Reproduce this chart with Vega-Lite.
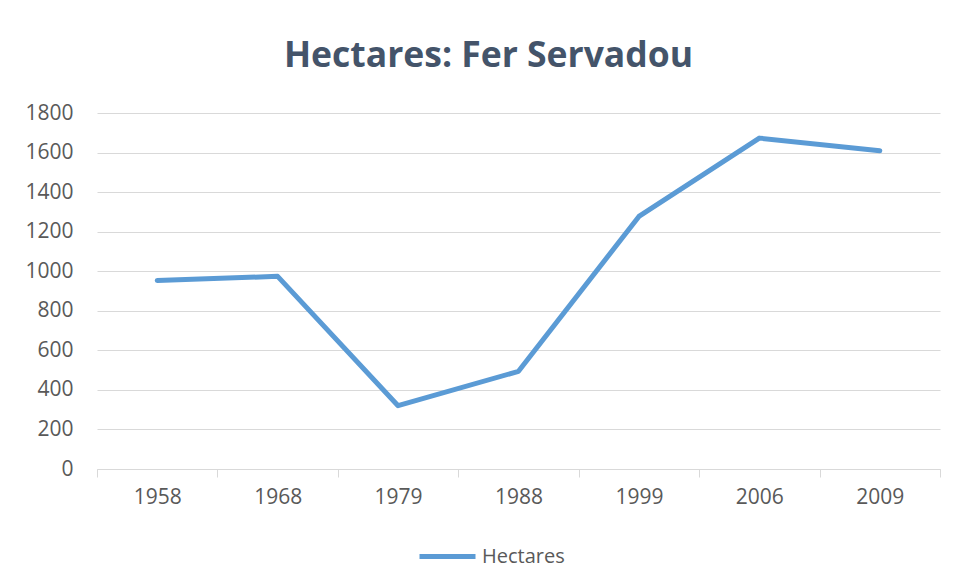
{
  "$schema": "https://vega.github.io/schema/vega-lite/v6.json",
  "width": 843,
  "height": 356,
  "autosize": {"type": "none"},
  "padding": {"left": 97, "top": 113, "right": 15, "bottom": 118},
  "background": "white",
  "title": {
    "text": "Hectares: Fer Servadou",
    "font": "Open Sans",
    "fontSize": 35.5,
    "fontWeight": "bold",
    "color": "#44546A",
    "anchor": "middle",
    "baseline": "alphabetic",
    "offset": 0,
    "dx": -30
  },
  "data": {
    "values": [
      {"year": "1958", "hectares": 953, "series": "Hectares"},
      {"year": "1968", "hectares": 974, "series": "Hectares"},
      {"year": "1979", "hectares": 320, "series": "Hectares"},
      {"year": "1988", "hectares": 494, "series": "Hectares"},
      {"year": "1999", "hectares": 1277, "series": "Hectares"},
      {"year": "2006", "hectares": 1673, "series": "Hectares"},
      {"year": "2009", "hectares": 1609, "series": "Hectares"}
    ]
  },
  "mark": {"type": "line", "strokeWidth": 5, "strokeCap": "round", "strokeJoin": "round"},
  "encoding": {
    "x": {
      "field": "year",
      "type": "ordinal",
      "sort": null,
      "scale": {"type": "band", "paddingInner": 0, "paddingOuter": 0},
      "axis": {
        "title": null,
        "labelAngle": 0,
        "labelFont": "Open Sans",
        "labelFontSize": 21,
        "labelColor": "#595959",
        "labelPadding": 9,
        "tickBand": "extent",
        "tickSize": 8,
        "tickColor": "#D9D9D9",
        "domainColor": "#D9D9D9",
        "grid": false
      }
    },
    "y": {
      "field": "hectares",
      "type": "quantitative",
      "scale": {"domain": [0, 1800], "nice": false},
      "axis": {
        "title": null,
        "values": [0, 200, 400, 600, 800, 1000, 1200, 1400, 1600, 1800],
        "format": "d",
        "labelFont": "Open Sans",
        "labelFontSize": 21,
        "labelColor": "#595959",
        "labelPadding": 24,
        "ticks": false,
        "domain": false,
        "grid": true,
        "gridColor": "#D9D9D9"
      }
    },
    "color": {
      "field": "series",
      "type": "nominal",
      "scale": {"range": ["#5B9BD5"]},
      "legend": {
        "title": null,
        "orient": "none",
        "legendX": 320,
        "legendY": 413,
        "symbolType": "stroke",
        "symbolSize": 3136,
        "symbolStrokeWidth": 5,
        "labelFont": "Open Sans",
        "labelFontSize": 20,
        "labelColor": "#595959",
        "labelOffset": 4,
        "padding": 0
      }
    }
  },
  "config": {"view": {"stroke": null}}
}
